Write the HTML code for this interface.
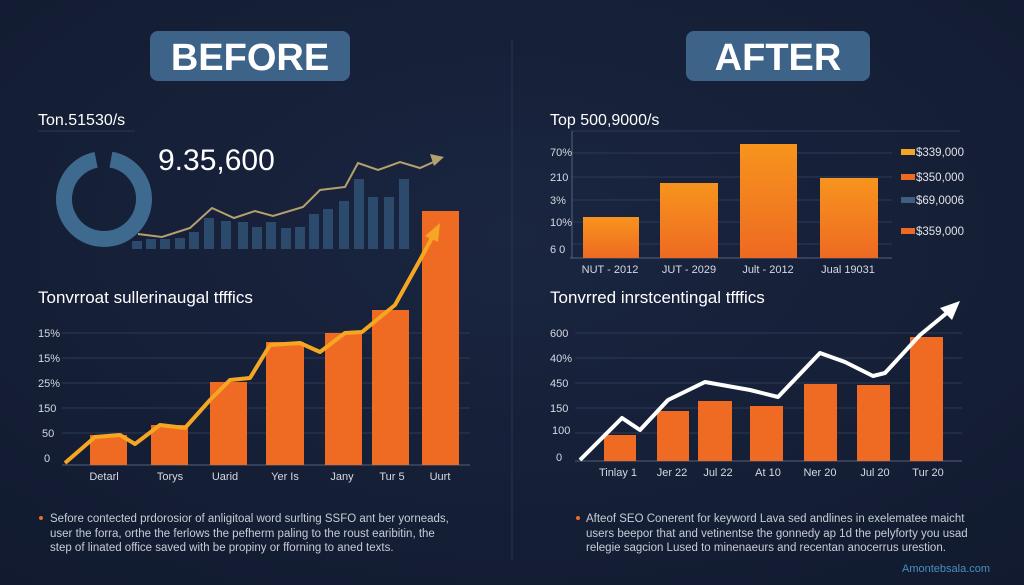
<!DOCTYPE html>
<html><head><meta charset="utf-8"><style>
html,body{margin:0;padding:0;background:#141d33;}
svg{display:block;font-family:"Liberation Sans",sans-serif;}
</style></head><body>
<svg width="1024" height="585" viewBox="0 0 1024 585" xmlns="http://www.w3.org/2000/svg">
<defs>
<linearGradient id="og" x1="0" y1="0" x2="0" y2="1"><stop offset="0" stop-color="#f7941d"/><stop offset="1" stop-color="#ee6a22"/></linearGradient>
<radialGradient id="bg" cx="0.5" cy="0.4" r="0.8"><stop offset="0" stop-color="#1a2540"/><stop offset="1" stop-color="#111a2e"/></radialGradient>
</defs>
<rect width="1024" height="585" fill="url(#bg)"/>
<line x1="512" y1="40" x2="512" y2="560" stroke="#2a3550" stroke-width="1"/>
<!-- headers -->
<rect x="150" y="31" width="200" height="50" rx="8" fill="#3e6389"/>
<text x="250" y="70" text-anchor="middle" font-size="38" font-weight="bold" fill="#fff">BEFORE</text>
<rect x="686" y="31" width="184" height="50" rx="8" fill="#3e6389"/>
<text x="778" y="70" text-anchor="middle" font-size="38" font-weight="bold" fill="#fff">AFTER</text>

<!-- LEFT TOP -->
<text x="38" y="125" font-size="16" fill="#fff">Ton.51530/s</text>
<line x1="38" y1="131" x2="135" y2="131" stroke="#2d3a55"/>
<circle cx="104" cy="199" r="40" fill="none" stroke="#3f6a90" stroke-width="16" stroke-dasharray="236 15" transform="rotate(-80 104 199)"/>
<text x="158" y="170" font-size="30" fill="#fff">9.35,600</text>
<g fill="#2b4a6c">
<rect x="132" y="241" width="10" height="8"/><rect x="146" y="239" width="10" height="10"/><rect x="160" y="239" width="10" height="10"/><rect x="175" y="238" width="10" height="11"/><rect x="189" y="232" width="10" height="17"/><rect x="204" y="218" width="10" height="31"/><rect x="221" y="221" width="10" height="28"/><rect x="238" y="222" width="10" height="27"/><rect x="252" y="227" width="10" height="22"/><rect x="266" y="222" width="10" height="27"/><rect x="281" y="228" width="10" height="21"/><rect x="295" y="227" width="10" height="22"/><rect x="309" y="214" width="10" height="35"/><rect x="323" y="209" width="10" height="40"/><rect x="339" y="201" width="10" height="48"/><rect x="354" y="179" width="10" height="70"/><rect x="368" y="197" width="10" height="52"/><rect x="384" y="197" width="10" height="52"/><rect x="399" y="179" width="10" height="70"/>
</g>
<polyline points="138,234 162,237 190,228 212,208 234,218 255,211 273,216 303,207 320,190 345,187 358,163 378,170 400,162 420,168 438,160" fill="none" stroke="#b5a16e" stroke-width="2"/>
<polygon points="444,157 430,154 434,166" fill="#b5a16e"/>

<!-- LEFT BOTTOM -->
<text x="38" y="303" font-size="17" fill="#fff">Tonvrroat sullerinaugal tfffics</text>
<g stroke="#2d3a55" stroke-width="1">
<line x1="62" y1="333" x2="470" y2="333"/><line x1="62" y1="358" x2="470" y2="358"/><line x1="62" y1="383" x2="470" y2="383"/><line x1="62" y1="408" x2="470" y2="408"/><line x1="62" y1="433" x2="470" y2="433"/><line x1="62" y1="465" x2="470" y2="465" stroke="#55607a"/>
</g>
<g font-size="11" fill="#d5d9e2">
<text x="38" y="337">15%</text><text x="38" y="362">15%</text><text x="38" y="387">25%</text><text x="38" y="412">150</text><text x="42" y="437">50</text><text x="44" y="462">0</text>
</g>
<g fill="#ef6a22">
<rect x="90" y="435" width="37" height="30"/><rect x="151" y="425" width="37" height="40"/><rect x="210" y="382" width="37" height="83"/><rect x="266" y="342" width="38" height="123"/><rect x="325" y="333" width="37" height="132"/><rect x="372" y="310" width="37" height="155"/><rect x="422" y="211" width="37" height="254"/>
</g>
<polyline points="65,463 95,437 120,435 135,444 160,425 185,428 210,400 230,380 250,378 270,345 300,343 320,352 345,333 362,332 395,305 420,260 433,236" fill="none" stroke="#f5a623" stroke-width="4" stroke-linejoin="round"/>
<polygon points="440,223 425,236 438,242" fill="#f5a623"/>
<g font-size="11" fill="#d5d9e2" text-anchor="middle">
<text x="104" y="480">Detarl</text><text x="170" y="480">Torys</text><text x="225" y="480">Uarid</text><text x="285" y="480">Yer Is</text><text x="342" y="480">Jany</text><text x="392" y="480">Tur 5</text><text x="440" y="480">Uurt</text>
</g>
<circle cx="41" cy="518" r="2" fill="#ef6a22"/>
<g font-size="11.5" fill="#c8ccd6">
<text x="50" y="522">Sefore contected prdorosior of anligitoal word surlting SSFO ant ber yorneads,</text>
<text x="50" y="537">user the forra, orthe the ferlows the pefherm paling to the roust earibitin, the</text>
<text x="50" y="551">step of linated office saved with be propiny or fforning to aned texts.</text>
</g>

<!-- RIGHT TOP -->
<text x="550" y="125" font-size="16" fill="#fff">Top 500,9000/s</text>
<g stroke="#2d3a55" stroke-width="1">
<line x1="572" y1="131" x2="960" y2="131"/><line x1="572" y1="153" x2="892" y2="153"/><line x1="572" y1="177" x2="892" y2="177"/><line x1="572" y1="200" x2="892" y2="200"/><line x1="572" y1="222" x2="892" y2="222"/><line x1="572" y1="244" x2="892" y2="244"/>
</g>
<line x1="572" y1="131" x2="572" y2="258" stroke="#55607a"/>
<line x1="570" y1="258" x2="892" y2="258" stroke="#55607a"/>
<g font-size="11" fill="#d5d9e2">
<text x="550" y="156">70%</text><text x="550" y="181">210</text><text x="550" y="204">3%</text><text x="550" y="226">10%</text><text x="550" y="253">6 0</text>
</g>
<g fill="url(#og)">
<rect x="583" y="217" width="56" height="41"/><rect x="660" y="183" width="58" height="75"/><rect x="740" y="144" width="57" height="114"/><rect x="820" y="178" width="58" height="80"/>
</g>
<g font-size="11" fill="#d5d9e2" text-anchor="middle">
<text x="610" y="273">NUT - 2012</text><text x="689" y="273">JUT - 2029</text><text x="768" y="273">Jult - 2012</text><text x="848" y="273">Jual 19031</text>
</g>
<rect x="901" y="149" width="14" height="6" fill="#f5a623"/>
<rect x="901" y="174" width="14" height="6" fill="#ee6a22"/>
<rect x="901" y="197" width="14" height="6" fill="#3e5f82"/>
<rect x="901" y="228" width="14" height="6" fill="#ee6a22"/>
<g font-size="11.5" fill="#e0e3ea">
<text x="916" y="156">$339,000</text><text x="916" y="181">$350,000</text><text x="916" y="204">$69,0006</text><text x="916" y="235">$359,000</text>
</g>

<!-- RIGHT BOTTOM -->
<text x="550" y="303" font-size="17" fill="#fff">Tonvrred inrstcentingal tfffics</text>
<g stroke="#2d3a55" stroke-width="1">
<line x1="575" y1="333" x2="962" y2="333"/><line x1="575" y1="358" x2="962" y2="358"/><line x1="575" y1="383" x2="962" y2="383"/><line x1="575" y1="408" x2="962" y2="408"/><line x1="575" y1="433" x2="962" y2="433"/><line x1="575" y1="461" x2="962" y2="461" stroke="#55607a"/>
</g>
<g font-size="11" fill="#d5d9e2">
<text x="550" y="337">600</text><text x="550" y="362">40%</text><text x="550" y="387">450</text><text x="550" y="412">150</text><text x="552" y="434">100</text><text x="556" y="461">0</text>
</g>
<g fill="#ef6a22">
<rect x="604" y="435" width="32" height="26"/><rect x="657" y="411" width="32" height="50"/><rect x="698" y="401" width="34" height="60"/><rect x="750" y="406" width="33" height="55"/><rect x="804" y="384" width="33" height="77"/><rect x="857" y="385" width="33" height="76"/><rect x="910" y="337" width="33" height="124"/>
</g>
<polyline points="580,460 622,418 640,430 668,400 705,382 750,390 778,397 820,353 845,362 873,376 885,373 920,335 948,312" fill="none" stroke="#fff" stroke-width="4" stroke-linejoin="round"/>
<polygon points="960,301 940,308 952,320" fill="#fff"/>
<g font-size="11" fill="#d5d9e2" text-anchor="middle">
<text x="618" y="476">Tinlay 1</text><text x="672" y="476">Jer 22</text><text x="718" y="476">Jul 22</text><text x="768" y="476">At 10</text><text x="820" y="476">Ner 20</text><text x="875" y="476">Jul 20</text><text x="928" y="476">Tur 20</text>
</g>
<circle cx="578" cy="518" r="2" fill="#ef6a22"/>
<g font-size="11.5" fill="#c8ccd6">
<text x="586" y="522">Afteof SEO Conerent for keyword Lava sed andlines in exelematee maicht</text>
<text x="586" y="537">users beepor that and vetinentse the gonnedy ap 1d the pelyforty you usad</text>
<text x="586" y="551">relegie sagcion Lused to minenaeurs and recentan anocerrus urestion.</text>
</g>
<text x="902" y="572" font-size="11" fill="#4a8fc0">Amontebsala.com</text>
</svg>
</body></html>
